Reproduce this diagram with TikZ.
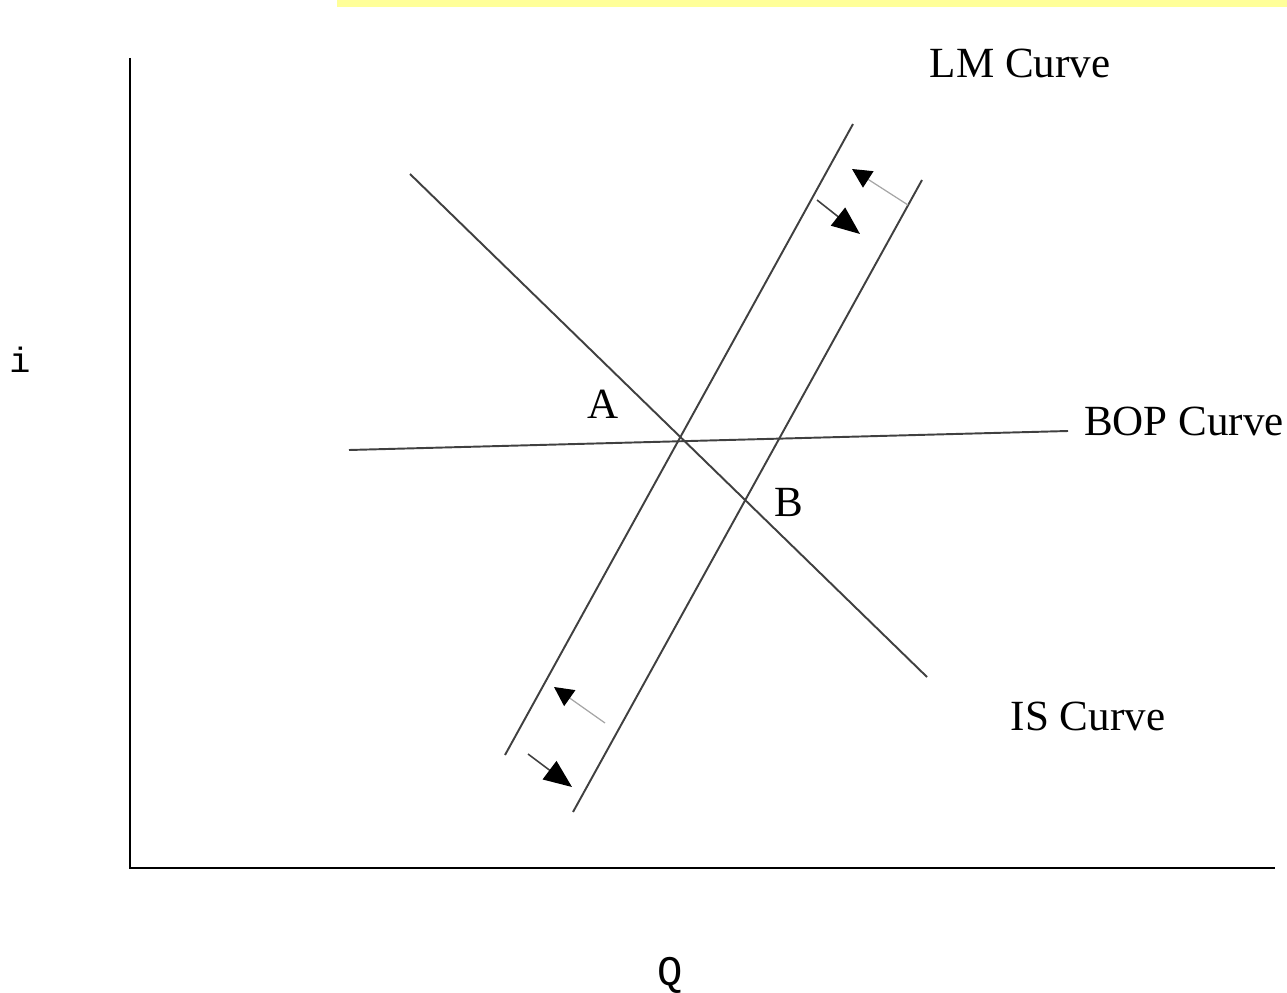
\documentclass[tikz,border=0pt]{standalone}
\usepackage{fontspec}
\setmainfont{Liberation Serif}
\setmonofont{Liberation Mono}
\usetikzlibrary{arrows.meta}
\definecolor{barYellow}{HTML}{FFFF99}
\tikzset{
  curve/.style = {line width = 1.1pt, black!75},
  moveout/.style = {line width = .9pt, black!75, -{Triangle[length=16pt, width=13pt, color=black]}},
  moveback/.style = {line width = .7pt, black!35, -{Triangle[length=11pt, width=11pt, color=black]}},
  lbl/.style = {font = \fontsize{24.5}{26}\selectfont, inner sep = 0pt}
}
\begin{document}
\begin{tikzpicture}[x = .02cm, y = -.02cm]
    \useasboundingbox (0,0) rectangle (1287,993);
    \fill [barYellow] (337,0) rectangle (1287,7);
    % axes
    \coordinate (top) at (130,58);
    \coordinate (origin) at (130,868);
    \coordinate (right) at (1275,868);
    \draw [line width = 1.6pt] (top) -- (origin) -- (right);
    % curves
    \coordinate (is1) at (410,174);  \coordinate (is2) at (927,677);
    \coordinate (bop1) at (349,450); \coordinate (bop2) at (1068,431);
    \coordinate (lma1) at (853,124); \coordinate (lma2) at (505,755);
    \coordinate (lmb1) at (922,180); \coordinate (lmb2) at (573,812);
    \foreach \a/\b in {is1/is2, bop1/bop2, lma1/lma2, lmb1/lmb2}
      \draw [curve] (\a) -- (\b);
    % shifts of the LM curve
    \coordinate (s1) at (817,200); \coordinate (e1) at (860,234);
    \coordinate (s2) at (908,205); \coordinate (e2) at (852,169);
    \coordinate (s3) at (605,723); \coordinate (e3) at (554,687);
    \coordinate (s4) at (528,754); \coordinate (e4) at (572,787);
    \foreach \a/\b in {s1/e1, s4/e4}
      \draw [moveout] (\a) -- (\b);
    \foreach \a/\b in {s2/e2, s3/e3}
      \draw [moveback] (\a) -- (\b);
    % labels
    \node [lbl] (lm) at (1020,63) {LM Curve};
    \node [lbl] (bop) at (1184,421) {BOP Curve};
    \node [lbl] (is) at (1088,716) {IS Curve};
    \node [lbl] (ptA) at (603,404) {A};
    \node [lbl] (ptB) at (789,502) {B};
    \node [lbl, font = \ttfamily\fontsize{20}{22}\selectfont] (irate) at (20,360) {i};
    \node [lbl, font = \ttfamily\fontsize{24}{26}\selectfont] (output) at (670,975) {Q};
  \end{tikzpicture}
\end{document}
